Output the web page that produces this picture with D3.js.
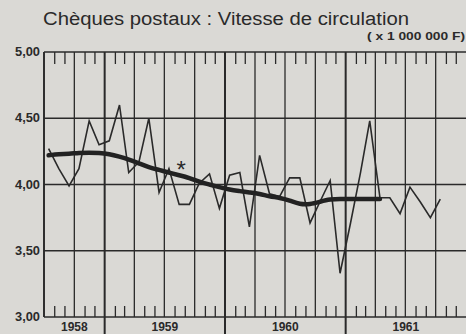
<!DOCTYPE html>
<html>
<head>
<meta charset="utf-8">
<script src="https://cdn.jsdelivr.net/npm/d3@7"></script>
<style>
  html, body { margin: 0; padding: 0; background: #dad9d5; }
  svg { display: block; }
  text { font-family: "Liberation Sans", "DejaVu Sans", sans-serif; fill: #2a2a2a; }
</style>
</head>
<body>
<svg id="chart" width="466" height="334"></svg>
<script>
// Monthly velocity of postal cheque accounts (millions of francs)
const months = [
  "1958-07","1958-08","1958-09","1958-10","1958-11","1958-12",
  "1959-01","1959-02","1959-03","1959-04","1959-05","1959-06",
  "1959-07","1959-08","1959-09","1959-10","1959-11","1959-12",
  "1960-01","1960-02","1960-03","1960-04","1960-05","1960-06",
  "1960-07","1960-08","1960-09","1960-10","1960-11","1960-12",
  "1961-01","1961-02","1961-03","1961-04","1961-05","1961-06",
  "1961-07","1961-08","1961-09","1961-10"
];
const monthly = [
  4.27, 4.12, 3.99, 4.12, 4.48, 4.30,
  4.33, 4.60, 4.09, 4.17, 4.50, 3.94,
  4.12, 3.85, 3.85, 4.01, 4.08, 3.82,
  4.07, 4.09, 3.68, 4.22, 3.93, 3.91,
  4.05, 4.05, 3.71, 3.87, 4.03, 3.33,
  3.70, 4.09, 4.48, 3.90, 3.90, 3.78,
  3.98, 3.87, 3.75, 3.89
];
// Smoothed trend (moving average), Jul 1958 – Apr 1961
const trendMonths = months.slice(0, 34);
const trend = [
  4.22, 4.23, 4.23, 4.24, 4.24, 4.24,
  4.23, 4.21, 4.19, 4.16, 4.13, 4.11,
  4.09, 4.07, 4.05, 4.02, 4.00, 3.98,
  3.96, 3.95, 3.94, 3.93, 3.91, 3.90,
  3.88, 3.85, 3.85, 3.87, 3.89, 3.89,
  3.89, 3.89, 3.89, 3.89
];
const yTicks = [3.00, 3.50, 4.00, 4.50, 5.00];
const yearLabels = ["1958", "1959", "1960", "1961"];
const title = "Chèques postaux : Vitesse de circulation";
const unit = "( x 1 000 000 F)";
const markMonth = "1959-08", markValue = 4.13;

const svg = d3.select("#chart");
const W = 466, H = 334;
const plotL = 44, plotR = 466, plotT = 52, plotB = 317;
const ink = "#2a2a2a";

const parse = d3.timeParse("%Y-%m");
const mid = s => d3.timeDay.offset(parse(s), 14);
const start = new Date(1958, 6, 1), end = new Date(1962, 0, 1);

const x = d3.scaleTime().domain([start, end]).range([plotL, plotR]);
const y = d3.scaleLinear().domain([3, 5]).range([plotB, plotT]);

// Title and unit
svg.append("text").attr("x", 226).attr("y", 25)
  .attr("text-anchor", "middle").attr("font-size", 18)
  .attr("textLength", 366).attr("lengthAdjust", "spacingAndGlyphs")
  .text(title);
svg.append("text").attr("x", 465).attr("y", 40)
  .attr("text-anchor", "end").attr("font-size", 11)
  .attr("font-weight", "bold")
  .attr("textLength", 98).attr("lengthAdjust", "spacingAndGlyphs")
  .text(unit);

// Horizontal grid and y labels
svg.append("g").selectAll("line").data(yTicks).join("line")
  .attr("x1", plotL).attr("x2", plotR)
  .attr("y1", d => y(d)).attr("y2", d => y(d))
  .attr("stroke", ink).attr("stroke-width", 1.4);
svg.append("g").selectAll("text").data(yTicks).join("text")
  .attr("x", 40).attr("y", d => y(d) + 1)
  .attr("text-anchor", "end").attr("dominant-baseline", "middle")
  .attr("font-size", 12).attr("font-weight", "bold")
  .attr("textLength", 25).attr("lengthAdjust", "spacingAndGlyphs")
  .text(d => d3.format(".2f")(d).replace(".", ","));

// Month ticks along top and bottom edges
const monthBounds = d3.timeMonth.range(start, end);
const minor = monthBounds.filter(d => d.getMonth() % 3 !== 0);
svg.append("g").attr("transform", `translate(0,${plotT})`)
  .call(d3.axisBottom(x).tickValues(minor).tickSize(12).tickFormat(""))
  .call(g => g.select(".domain").remove())
  .call(g => g.selectAll("line").attr("stroke", ink).attr("stroke-width", 1.3));
svg.append("g").attr("transform", `translate(0,${plotB})`)
  .call(d3.axisTop(x).tickValues(minor).tickSize(11).tickFormat(""))
  .call(g => g.select(".domain").remove())
  .call(g => g.selectAll("line").attr("stroke", ink).attr("stroke-width", 1.3));

// Quarter grid lines; year boundaries heavier and extended below the axis
const quarters = monthBounds.filter(d => d.getMonth() % 3 === 0);
svg.append("g").selectAll("line").data(quarters).join("line")
  .attr("x1", d => x(d)).attr("x2", d => x(d))
  .attr("y1", plotT)
  .attr("y2", d => d.getMonth() === 0 ? H : plotB)
  .attr("stroke", ink)
  .attr("stroke-width", d => d.getMonth() === 0 ? 2 : 1.3);
svg.append("line").attr("x1", plotL).attr("x2", plotL)
  .attr("y1", plotT).attr("y2", plotB)
  .attr("stroke", ink).attr("stroke-width", 1.8);

// Year labels centred on the visible span of each year
svg.append("g").selectAll("text").data(yearLabels).join("text")
  .attr("x", d => {
    const a = d3.max([new Date(+d, 0, 1), start]);
    const b = d3.min([new Date(+d + 1, 0, 1), end]);
    return (x(a) + x(b)) / 2;
  })
  .attr("y", 331).attr("text-anchor", "middle")
  .attr("font-size", 12).attr("font-weight", "bold")
  .text(d => d);

// Monthly series
const line = d3.line().x(d => x(mid(d[0]))).y(d => y(d[1]));
svg.append("path")
  .datum(d3.zip(months, monthly))
  .attr("d", line)
  .attr("fill", "none").attr("stroke", ink)
  .attr("stroke-width", 1.6).attr("stroke-linejoin", "miter");

// Trend
svg.append("path")
  .datum(d3.zip(trendMonths, trend))
  .attr("d", line.curve(d3.curveBasis))
  .attr("fill", "none").attr("stroke", "#222")
  .attr("stroke-width", 4.5).attr("stroke-linecap", "round");

// Asterisk note
svg.append("text")
  .attr("x", x(mid(markMonth)) + 2).attr("y", y(markValue) + 11)
  .attr("text-anchor", "middle").attr("font-size", 24)
  .text("*");
</script>
</body>
</html>
